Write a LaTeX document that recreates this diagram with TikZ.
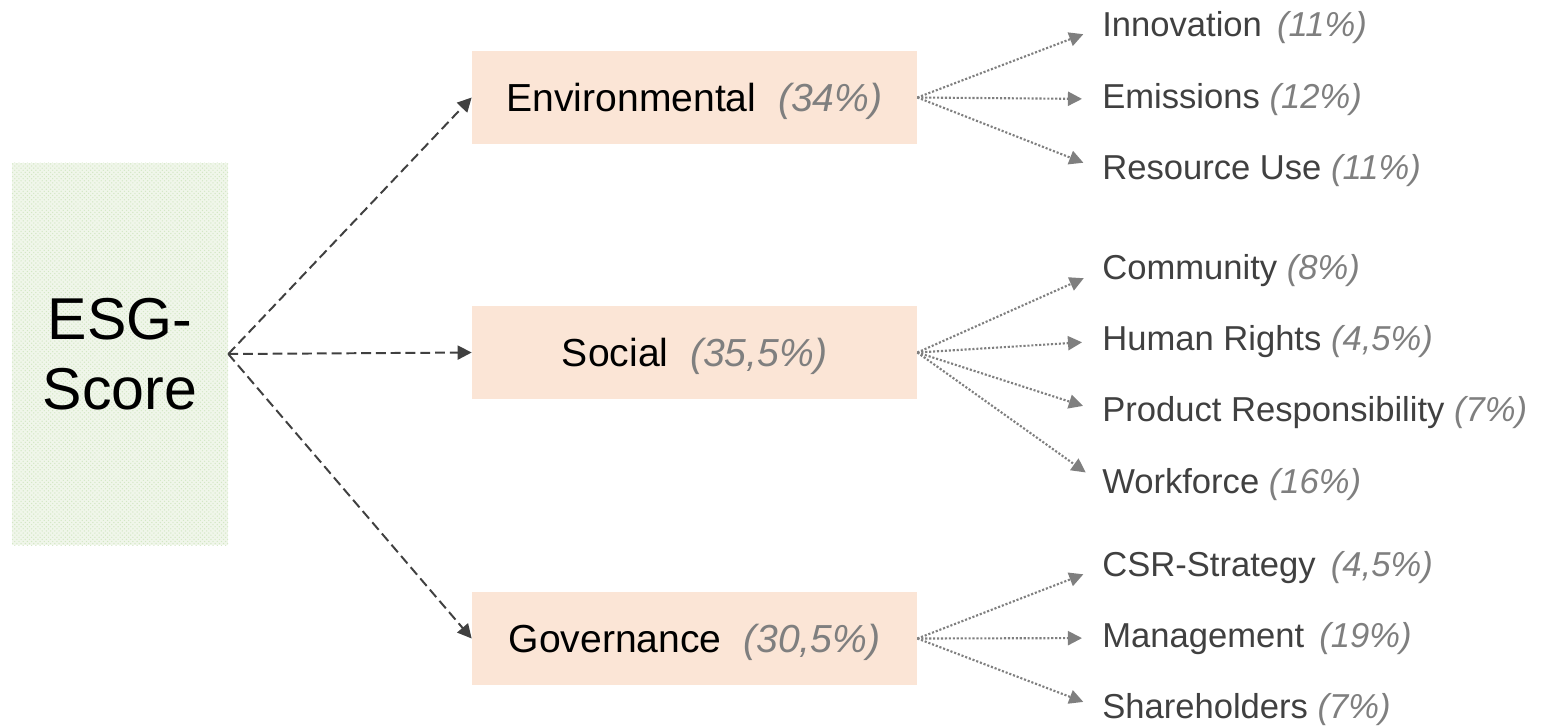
\documentclass[tikz,border=0pt]{standalone}
\usepackage{fontspec}
\setmainfont{Liberation Sans}
\usetikzlibrary{arrows.meta,positioning,patterns}

\definecolor{pillarfill}{HTML}{FBE5D6}
\definecolor{scorefill}{HTML}{F0F6EA}
\definecolor{scoredots}{HTML}{D3E7C4}
\definecolor{pctgray}{HTML}{7F7F7F}
\definecolor{subgray}{HTML}{404040}
\definecolor{arrowgray}{HTML}{404040}

\newcommand{\pct}[1]{{\color{pctgray}\itshape #1}}

\begin{document}
\begin{tikzpicture}[x=0.025cm,y=-0.025cm]
  \tikzstyle{score}=[fill=scorefill,postaction={pattern=crosshatch dots,pattern color=scoredots},minimum width=5.4cm,minimum height=9.55cm,align=center,font=\fontsize{42}{50}\selectfont]
  \tikzstyle{pillar}=[fill=pillarfill,minimum width=11.125cm,minimum height=2.325cm,text height=26pt,text depth=5.4pt,font=\fontsize{27.8}{33}\selectfont]
  \tikzstyle{sub}=[anchor=base west,inner sep=0pt,text=subgray,font=\fontsize{24.6}{29}\selectfont]
  \tikzstyle{main}=[arrowgray,line width=1.4pt,dash pattern=on 7pt off 3.5pt,-{Triangle[length=10pt,width=10pt]}]
  \tikzstyle{part}=[pctgray,line width=1.5pt,dash pattern=on 1.5pt off 1.3pt,shorten >=0.5cm,-{Triangle[length=10pt,width=10pt]}]
  \useasboundingbox (0,0) rectangle (1544,725);

  % score and the three pillars
  \node[score] (esg) at (120,354) {ESG-\\Score};
  \node[pillar] (env) at (694.5,97.5) {Environmental~ \pct{(34\%)}};
  \node[pillar] (soc) at (694.5,352.5) {Social~ \pct{(35,5\%)}};
  \node[pillar] (gov) at (694.5,638.5) {Governance~ \pct{(30,5\%)}};

  % categories (placed on their baselines)
  \node[sub] (inno) at (1102,36) {Innovation\hspace{4pt} \pct{(11\%)}};
  \node[sub] (emis) at (1102,108) {Emissions \pct{(12\%)}};
  \node[sub] (res) at (1102,179) {Resource Use \pct{(11\%)}};
  \node[sub] (comm) at (1102,279) {Community \pct{(8\%)}};
  \node[sub] (hum) at (1102,350) {Human Rights \pct{(4,5\%)}};
  \node[sub] (prod) at (1102,421) {Product Responsibility \pct{(7\%)}};
  \node[sub] (work) at (1102,493) {Workforce \pct{(16\%)}};
  \node[sub] (csr) at (1102,576) {CSR-Strategy\hspace{4pt} \pct{(4,5\%)}};
  \node[sub] (mgmt) at (1102,647) {Management\hspace{4pt} \pct{(19\%)}};
  \node[sub] (share) at (1102,718) {Shareholders \pct{(7\%)}};

  \draw[main] (esg.east) -- (env.west);
  \draw[main] (esg.east) -- (soc.west);
  \draw[main] (esg.east) -- (gov.west);

  \foreach \s in {inno,emis,res} \draw[part] (env.east) -- (\s.west);
  \foreach \s in {comm,hum,prod,work} \draw[part] (soc.east) -- (\s.west);
  \foreach \s in {csr,mgmt,share} \draw[part] (gov.east) -- (\s.west);
\end{tikzpicture}
\end{document}
